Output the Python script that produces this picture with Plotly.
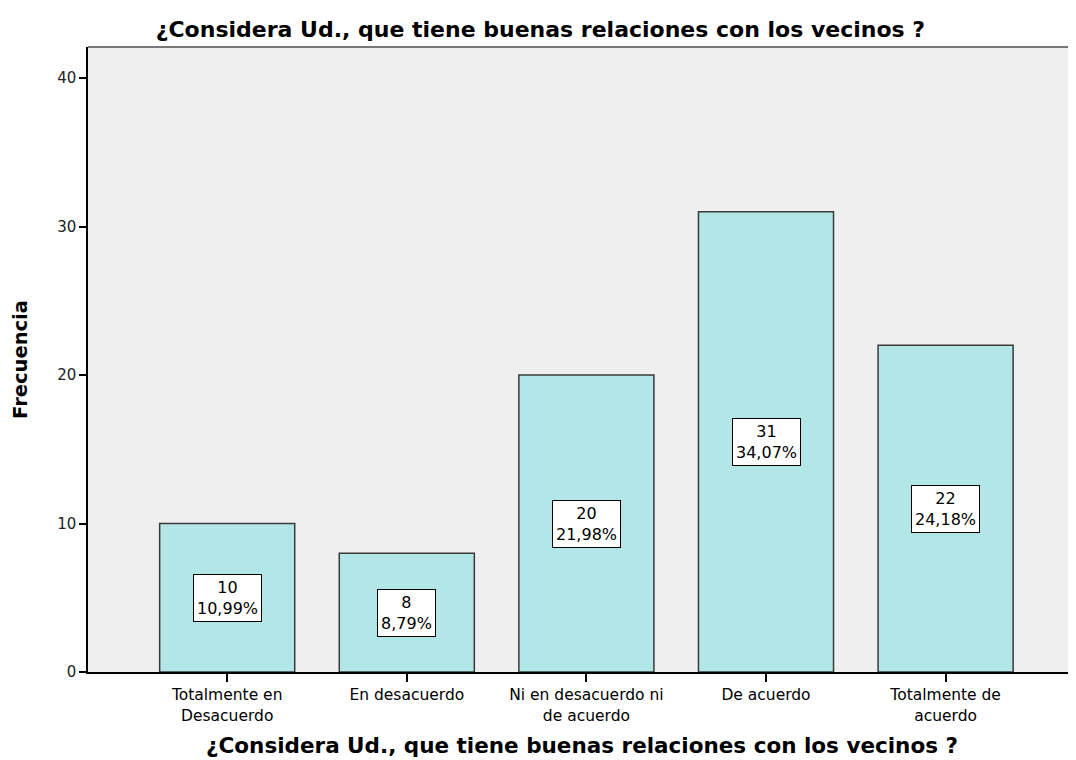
import plotly.graph_objects as go

categories = ["Totalmente en<br>Desacuerdo", "En desacuerdo", "Ni en desacuerdo ni<br>de acuerdo",
              "De acuerdo", "Totalmente de<br>acuerdo"]
counts = [10, 8, 20, 31, 22]
percents = ["10,99%", "8,79%", "21,98%", "34,07%", "24,18%"]
title = "¿Considera Ud., que tiene buenas relaciones con los vecinos ?"

x_idx = list(range(len(categories)))
FONT = "DejaVu Sans, Verdana, sans-serif"

fig = go.Figure(go.Bar(
    x=x_idx, y=counts, width=0.752,
    marker=dict(color="#b3e6e6", line=dict(color="#3a3a3a", width=1.5)),
    hoverinfo="skip",
))

for i, (c, p) in enumerate(zip(counts, percents)):
    fig.add_annotation(x=i, y=c / 2, text=f"{c}<br>{p}", showarrow=False,
                       font=dict(family=FONT, size=16, color="black"),
                       bgcolor="white", bordercolor="black", borderwidth=1, borderpad=3)

fig.update_layout(
    width=1068, height=752,
    margin=dict(l=80, r=0, t=39, b=88),
    paper_bgcolor="white", plot_bgcolor="#efefef",
    font=dict(family=FONT, color="black"),
    title=dict(text=f"<b>{title}</b>", x=0.4985, xanchor="center", y=0.972, yanchor="middle",
               font=dict(size=22)),
    showlegend=False,
)
fig.update_xaxes(
    range=[-0.775, 4.726], tickvals=x_idx, ticktext=categories,
    ticks="outside", ticklen=8, tickcolor="black", tickwidth=1.5,
    showline=True, linecolor="black", linewidth=1.5, mirror=False,
    showgrid=False, zeroline=False, tickfont=dict(size=15.5),
    title=dict(text=f"<b>{title}</b>", font=dict(size=21.5), standoff=14),
    tickangle=0,
)
fig.update_yaxes(
    range=[0, 42.09], tickvals=[0, 10, 20, 30, 40],
    ticks="outside", ticklen=7, tickcolor="black", tickwidth=1.5,
    showline=True, linecolor="black", linewidth=1.5,
    showgrid=False, zeroline=False, tickfont=dict(size=15, color="#222"),
    title=dict(text="<b>Frecuencia</b>", font=dict(size=19.5), standoff=24),
)
# top border of plot area
fig.add_shape(type="line", xref="paper", yref="paper", x0=0, x1=1, y0=1, y1=1,
              line=dict(color="#777777", width=2))

fig.write_html("out.html")
